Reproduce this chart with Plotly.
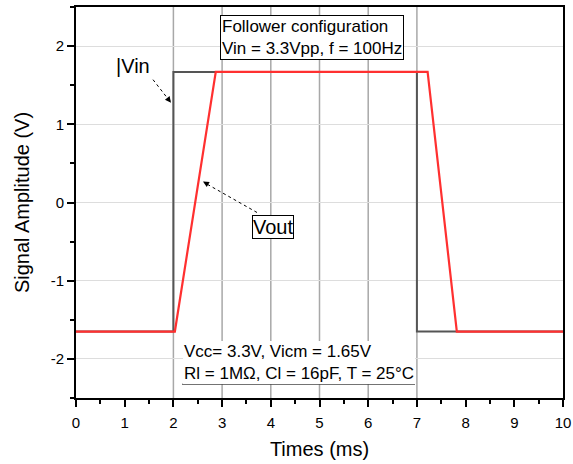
import plotly.graph_objects as go

# Data
vin_t = [0, 2.0, 2.0, 7.0, 7.0, 10]
vin_v = [-1.65, -1.65, 1.67, 1.67, -1.65, -1.65]
vout_t = [0, 2.03, 2.87, 7.22, 7.82, 10]
vout_v = [-1.65, -1.65, 1.67, 1.67, -1.65, -1.65]
period_marks = [2, 3, 4, 5, 6, 7]
x_ticks = list(range(0, 11))
y_ticks = [-2, -1, 0, 1, 2]
y_ticktext = ["-2", "-1", "0", "1", "2"]

FONT = "Arial, Liberation Sans, sans-serif"

fig = go.Figure()
fig.add_trace(go.Scatter(x=vin_t, y=vin_v, mode="lines",
                         line=dict(color="#555555", width=2), name="Vin"))
fig.add_trace(go.Scatter(x=vout_t, y=vout_v, mode="lines",
                         line=dict(color="#ff3030", width=2.2), name="Vout"))

for xv in period_marks:
    fig.add_shape(type="line", xref="x", yref="paper", x0=xv, x1=xv, y0=0, y1=1,
                  line=dict(color="#a8a8a8", width=1.5), layer="below")


def px2x(px):
    return (px - 76) / 48.7


def px2y(py):
    return (203 - py) / 78.3


# dotted arrow shafts
fig.add_shape(type="line", x0=px2x(153), y0=px2y(80), x1=px2x(169), y1=px2y(100.5),
              line=dict(color="black", width=1, dash="dot"))
fig.add_shape(type="line", x0=px2x(257), y0=px2y(213), x1=px2x(206), y1=px2y(184),
              line=dict(color="black", width=1, dash="dot"))

annotations = [
    dict(x=px2x(171), y=px2y(103), ax=-4, ay=-5, text="", showarrow=True,
         arrowhead=2, arrowsize=1, arrowwidth=1.2, arrowcolor="black"),
    dict(x=px2x(203), y=px2y(182), ax=6, ay=3.4, text="", showarrow=True,
         arrowhead=2, arrowsize=1, arrowwidth=1.2, arrowcolor="black"),
    dict(x=px2x(133), y=px2y(66), text="|Vin", showarrow=False,
         font=dict(family=FONT, size=20, color="black")),
    dict(x=px2x(273), y=px2y(228), text="Vout", showarrow=False,
         font=dict(family=FONT, size=20, color="black"),
         bgcolor="white", bordercolor="black", borderwidth=1, borderpad=0),
    dict(x=px2x(312), y=px2y(37.5),
         text="Follower configuration<br>Vin = 3.3Vpp, f = 100Hz",
         showarrow=False, align="left",
         font=dict(family=FONT, size=17, color="black"),
         bgcolor="white", bordercolor="black", borderwidth=1, borderpad=1),
    dict(x=px2x(299), y=px2y(363),
         text="Vcc= 3.3V, Vicm = 1.65V<br>Rl = 1MΩ, Cl = 16pF, T = 25°C",
         showarrow=False, align="left",
         font=dict(family=FONT, size=17, color="black"),
         bgcolor="white", borderwidth=0, borderpad=1),
]
fig.update_layout(annotations=annotations)
fig.add_shape(type="line", x0=px2x(182), y0=px2y(385), x1=px2x(415), y1=px2y(385),
              line=dict(color="#444444", width=1.2))

fig.update_xaxes(range=[0, 10], tickvals=x_ticks, ticks="outside", ticklen=7, tickwidth=1.5,
                 tickcolor="black", showline=True, linecolor="black", linewidth=2,
                 mirror=True, showgrid=False, zeroline=False, ticklabelstandoff=3,
                 automargin=False,
                 tickfont=dict(family=FONT, size=15, color="black"),
                 title=dict(text="Times (ms)", font=dict(family=FONT, size=20, color="black"),
                            standoff=12),
                 minor=dict(dtick=0.5, ticks="outside", ticklen=4, tickcolor="black", showgrid=False))
fig.update_yaxes(range=[-2.5, 2.5], tickvals=y_ticks, ticktext=y_ticktext, ticks="outside",
                 ticklen=7, tickwidth=1.5, automargin=False,
                 tickcolor="black", showline=True, linecolor="black", linewidth=2,
                 mirror=True, showgrid=True, gridcolor="#dddddd", gridwidth=1, zeroline=False,
                 tickfont=dict(family=FONT, size=15, color="black"),
                 title=dict(text="Signal Amplitude (V)", font=dict(family=FONT, size=20, color="black"),
                            standoff=16),
                 minor=dict(dtick=0.5, tick0=0, ticks="outside", ticklen=4, tickcolor="black", showgrid=False))

fig.update_layout(width=573, height=464, margin=dict(l=76, r=10, t=7, b=66),
                  plot_bgcolor="white", paper_bgcolor="white", showlegend=False)

fig.write_html("out.html")
